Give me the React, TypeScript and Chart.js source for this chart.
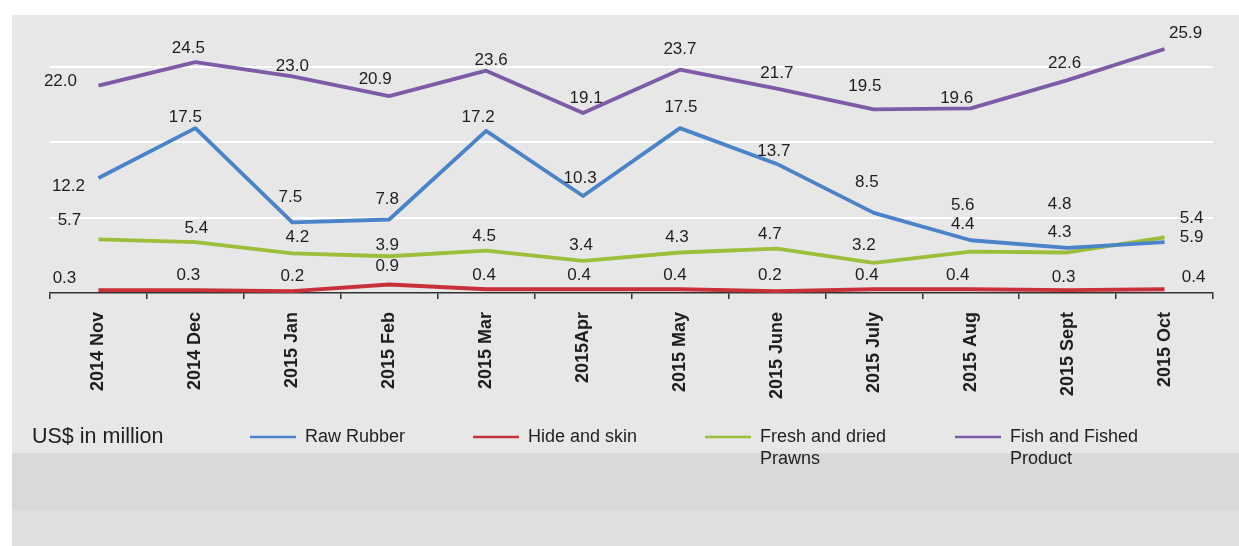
import React, { useEffect, useRef } from "react";
import { Chart, registerables } from "chart.js";

Chart.register(...registerables);

const categories = [
  "2014 Nov", "2014 Dec", "2015 Jan", "2015 Feb", "2015 Mar", "2015Apr",
  "2015 May", "2015 June", "2015 July", "2015 Aug", "2015 Sept", "2015 Oct",
];

const rawRubber = [12.2, 17.5, 7.5, 7.8, 17.2, 10.3, 17.5, 13.7, 8.5, 5.6, 4.8, 5.4];
const hideAndSkin = [0.3, 0.3, 0.2, 0.9, 0.4, 0.4, 0.4, 0.2, 0.4, 0.4, 0.3, 0.4];
const prawns = [5.7, 5.4, 4.2, 3.9, 4.5, 3.4, 4.3, 4.7, 3.2, 4.4, 4.3, 5.9];
const fish = [22.0, 24.5, 23.0, 20.9, 23.6, 19.1, 23.7, 21.7, 19.5, 19.6, 22.6, 25.9];

const seriesNames = ["Raw Rubber", "Hide and skin", "Fresh and dried\nPrawns", "Fish and Fished\nProduct"];
const unitLabel = "US$ in million";
const gridValues = [8, 16, 24];

// label offsets (px) relative to each point, per series
const labelDx = [
  [-30, -10, -2, -2, -8, -3, 1, -3, -7, -8, -8, 27],
  [-34, -7, 0, -2, -2, -4, -5, -7, -7, -13, -4, 29],
  [-29, 1, 5, -2, -2, -2, -3, -7, -10, -8, -8, 27],
  [-38, -7, 0, -14, 5, 3, 0, 0, -9, -14, -3, 21],
];
const labelDy = [
  [8, -11, -25, -20, -14, -18, -21, -13, -31, -35, -43, -24],
  [-12, -15, -15, -18, -14, -14, -14, -16, -14, -14, -13, -12],
  [-19, -14, -16, -11, -14, -16, -15, -14, -18, -27, -20, 0],
  [-4, -14, -10, -17, -10, -15, -20, -15, -23, -10, -17, -16],
];
const legendX = [250, 473, 705, 955];

const FONT = "'Liberation Sans', Arial, sans-serif";

export default function App() {
  const ref = useRef<HTMLCanvasElement | null>(null);

  useEffect(() => {
    if (!ref.current) return;

    const labelPlugin = {
      id: "valueLabels",
      afterDatasetsDraw(chart: any) {
        const ctx = chart.ctx;
        ctx.save();
        ctx.font = `17px ${FONT}`;
        ctx.fillStyle = "#1e1e1e";
        ctx.textAlign = "center";
        ctx.textBaseline = "middle";
        chart.data.datasets.forEach((ds: any, di: number) => {
          const meta = chart.getDatasetMeta(di);
          meta.data.forEach((el: any, i: number) => {
            const v = ds.data[i] as number;
            ctx.fillText(v.toFixed(1), el.x + labelDx[di][i], el.y + labelDy[di][i]);
          });
        });
        ctx.restore();
      },
    };

    const legendPlugin = {
      id: "customLegend",
      afterDraw(chart: any) {
        const ctx = chart.ctx;
        const y = 437;
        ctx.save();
        ctx.fillStyle = "#1e1e1e";
        ctx.textBaseline = "middle";
        ctx.textAlign = "left";
        ctx.font = `21.5px ${FONT}`;
        ctx.fillText(unitLabel, 32, y);
        ctx.font = `18px ${FONT}`;
        chart.data.datasets.forEach((ds: any, di: number) => {
          const x = legendX[di];
          ctx.strokeStyle = ds.borderColor;
          ctx.lineWidth = 2.5;
          ctx.beginPath();
          ctx.moveTo(x, y);
          ctx.lineTo(x + 46, y);
          ctx.stroke();
          const lines = String(ds.label).split("\n");
          lines.forEach((t: string, li: number) => {
            ctx.fillText(t, x + 55, y + li * 22);
          });
        });
        ctx.restore();
      },
    };

    const chart = new Chart(ref.current, {
      type: "line",
      data: {
        labels: categories,
        datasets: [
          { label: seriesNames[0], data: rawRubber, borderColor: "#4a83c9" },
          { label: seriesNames[1], data: hideAndSkin, borderColor: "#c8303a" },
          { label: seriesNames[2], data: prawns, borderColor: "#9cbf3b" },
          { label: seriesNames[3], data: fish, borderColor: "#7d5ba6" },
        ].map((d) => ({
          ...d,
          borderWidth: 3.8,
          pointRadius: 0,
          tension: 0,
          fill: false,
          borderJoinStyle: "round" as const,
        })),
      },
      options: {
        animation: false,
        responsive: false,
        maintainAspectRatio: false,
        layout: { padding: { left: 50, right: 26, top: 16, bottom: 143 } },
        plugins: {
          legend: { display: false },
          tooltip: { enabled: false },
        },
        scales: {
          x: {
            offset: true,
            grid: {
              drawOnChartArea: false,
              drawTicks: true,
              tickLength: 6,
              color: "#333333",
              lineWidth: 1.5,
              offset: true,
            },
            border: { display: true, color: "#333333", width: 1.5 },
            ticks: {
              minRotation: 90,
              maxRotation: 90,
              autoSkip: false,
              padding: 13,
              color: "#1e1e1e",
              font: { family: FONT, size: 18, weight: "bold" },
            },
            afterFit(scale: any) {
              scale.height = 110;
            },
          },
          y: {
            min: 0,
            max: 29.4,
            ticks: { display: false, stepSize: 8 },
            border: { display: false },
            grid: {
              drawTicks: false,
              lineWidth: 2,
              color: (c: any) =>
                gridValues.includes(c.tick?.value) ? "#ffffff" : "rgba(0,0,0,0)",
            },
            afterFit(scale: any) {
              scale.width = 0;
            },
          },
        },
      },
      plugins: [labelPlugin, legendPlugin],
    });
    return () => chart.destroy();
  }, []);

  return (
    <div style={{ position: "fixed", left: 0, top: 0, width: 1239, height: 546, background: "#ffffff", overflow: "hidden" }}>
      <div style={{ position: "absolute", left: 12, top: 15, width: 1227, height: 438, background: "#e7e7e7" }} />
      <div style={{ position: "absolute", left: 12, top: 453, width: 1227, height: 57, background: "#d9d9d9" }} />
      <div style={{ position: "absolute", left: 12, top: 510, width: 1227, height: 36, background: "#dfdfdf" }} />
      <canvas ref={ref} width={1239} height={546} style={{ position: "absolute", left: 0, top: 0, width: 1239, height: 546 }} />
    </div>
  );
}
